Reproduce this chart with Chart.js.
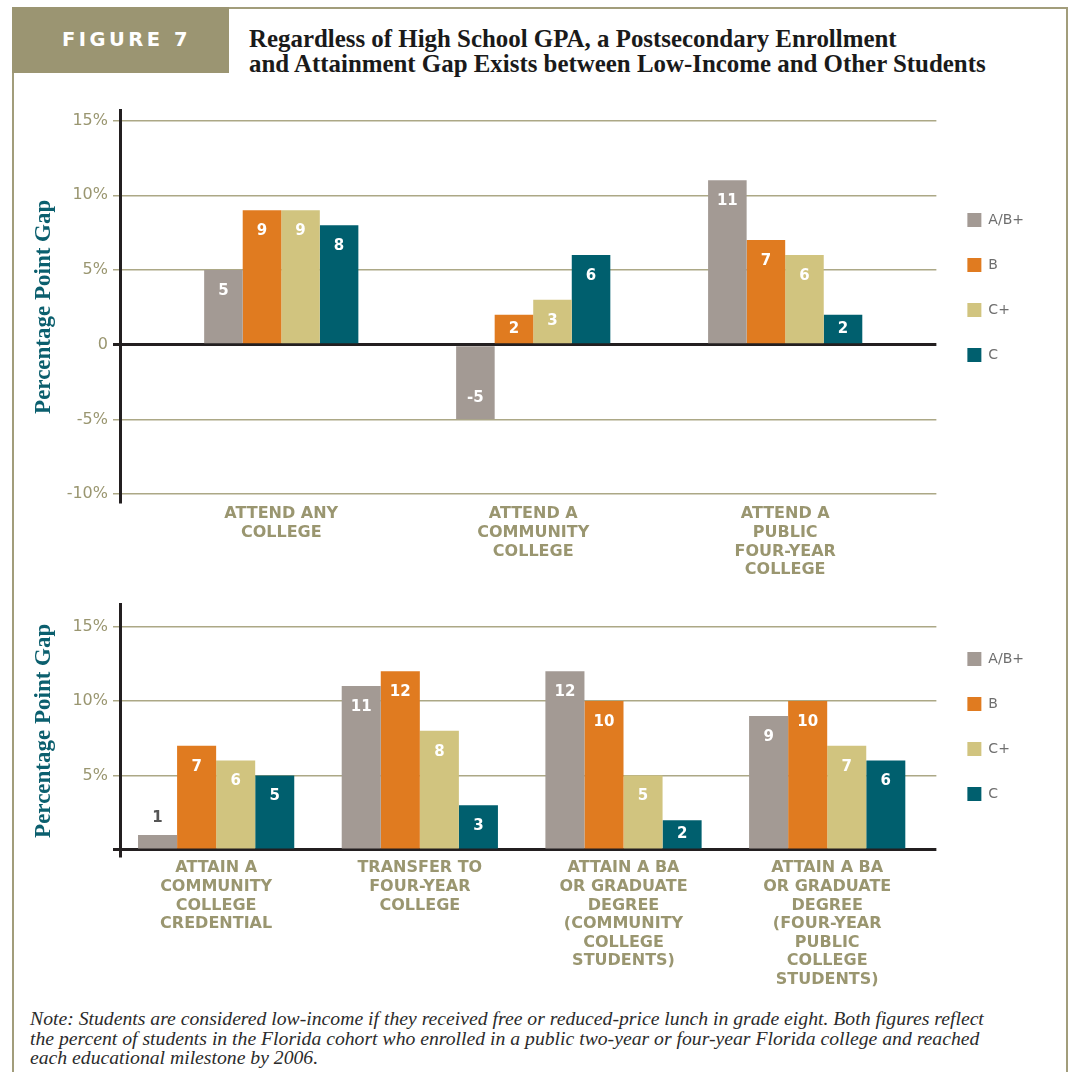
<!DOCTYPE html>
<html>
<head>
<meta charset="utf-8">
<script src="https://cdn.jsdelivr.net/npm/chart.js@4.4.0/dist/chart.umd.min.js"></script>
<style>
  body { margin: 0; background: #fff; width: 1069px; height: 1072px; overflow: hidden; position: relative; font-family: "DejaVu Sans", sans-serif; }
  #frame { position: absolute; left: 12px; top: 7px; width: 1052px; height: 1100px; border: 2px solid #a29d7b; }
  #figtag { position: absolute; left: 12px; top: 7px; width: 217px; height: 66px; box-sizing: border-box; padding-left: 12px;
            background: #9b9572; color: #fff; font: bold 19.5px "DejaVu Sans"; letter-spacing: 3.5px; line-height: 66px; text-align: center; }
  #title { position: absolute; left: 249px; top: 26px; font: bold 24.9px "Liberation Serif"; line-height: 25px; color: #1a1a1a; white-space: nowrap; }
  #note { position: absolute; left: 30px; top: 1009px; font: italic 19.7px "Liberation Serif"; line-height: 19.6px; color: #2b2b2b; white-space: nowrap; }
  canvas { position: absolute; }
</style>
</head>
<body>
<div id="frame"></div>
<div id="figtag">FIGURE 7</div>
<div id="title">Regardless of High School GPA, a Postsecondary Enrollment<br>and Attainment Gap Exists between Low-Income and Other Students</div>
<canvas id="enrollChart" width="1020" height="500" style="left:14px;top:96px"></canvas>
<canvas id="attainChart" width="1020" height="405" style="left:14px;top:590px"></canvas>
<div id="note">Note: Students are considered low-income if they received free or reduced-price lunch in grade eight. Both figures reflect<br>the percent of students in the Florida cohort who enrolled in a public two-year or four-year Florida college and reached<br>each educational milestone by 2006.</div>

<script>
// GPA groups (legend) and their colours
var gpaLabels = ["A/B+", "B", "C+", "C"];
var gpaColors = ["#a39a94", "#e07b20", "#d1c47f", "#005f6e"];

// top panel: enrollment
var enrollCats = [
  ["ATTEND ANY", "COLLEGE"],
  ["ATTEND A", "COMMUNITY", "COLLEGE"],
  ["ATTEND A", "PUBLIC", "FOUR-YEAR", "COLLEGE"]
];
var enrollAB = [5, -5, 11];
var enrollB = [9, 2, 7];
var enrollCPlus = [9, 3, 6];
var enrollC = [8, 6, 2];
var enrollTicks = [15, 10, 5, 0, -5, -10];

// bottom panel: attainment
var attainCats = [
  ["ATTAIN A", "COMMUNITY", "COLLEGE", "CREDENTIAL"],
  ["TRANSFER TO", "FOUR-YEAR", "COLLEGE"],
  ["ATTAIN A BA", "OR GRADUATE", "DEGREE", "(COMMUNITY", "COLLEGE", "STUDENTS)"],
  ["ATTAIN A BA", "OR GRADUATE", "DEGREE", "(FOUR-YEAR", "PUBLIC", "COLLEGE", "STUDENTS)"]
];
var attainAB = [1, 11, 12, 9];
var attainB = [7, 12, 10, 10];
var attainCPlus = [6, 8, 5, 7];
var attainC = [5, 3, 2, 6];
var attainTicks = [15, 10, 5, 0];

var OLIVE = "#9a9670";
var GRID = "#aca886";
var INK = "#231f20";

// numbers printed inside (or just above) each bar
var valueLabels = {
  id: "valueLabels",
  afterDatasetsDraw: function (chart) {
    var ctx = chart.ctx;
    ctx.save();
    ctx.font = "bold 15px 'DejaVu Sans'";
    ctx.textAlign = "center";
    ctx.textBaseline = "middle";
    chart.data.datasets.forEach(function (ds, di) {
      chart.getDatasetMeta(di).data.forEach(function (bar, i) {
        var v = ds.data[i].y;
        var h = Math.abs(bar.base - bar.y);
        var dir = v >= 0 ? 1 : -1;
        if (h < 24) {
          ctx.fillStyle = "#555";
          ctx.fillText(String(v), bar.x, bar.y - dir * 17);
        } else {
          ctx.fillStyle = "#fff";
          ctx.fillText(String(v), bar.x, bar.y + dir * Math.min(21, h / 2));
        }
      });
    });
    ctx.restore();
  }
};

function makeChart(id, cats, series, yTicks, cfg) {
  var datasets = series.map(function (vals, k) {
    return {
      label: gpaLabels[k],
      data: vals.map(function (v, i) { return { x: i, y: v }; }),
      backgroundColor: gpaColors[k],
      borderWidth: 0,
      barPercentage: 1,
      categoryPercentage: cfg.group
    };
  });

  new Chart(document.getElementById(id).getContext("2d"), {
    type: "bar",
    data: { datasets: datasets },
    plugins: [valueLabels],
    options: {
      responsive: false,
      animation: false,
      layout: { padding: { top: cfg.padTop, left: 0, right: 0, bottom: 0 } },
      plugins: {
        tooltip: { enabled: false },
        legend: {
          position: "right",
          align: "start",
          title: { display: true, text: " ", font: { size: 12 }, padding: { top: 0, bottom: cfg.legendGap } },
          labels: {
            boxWidth: 14, boxHeight: 14, padding: 31,
            color: "#6e6e6e",
            font: { size: 14, family: "DejaVu Sans" }
          }
        }
      },
      scales: {
        x: {
          type: "linear",
          offset: false,
          min: cfg.xmin, max: cfg.xmax,
          afterBuildTicks: function (s) { s.ticks = cats.map(function (c, i) { return { value: i }; }); },
          afterFit: function (s) { s.height = cfg.xh; },
          grid: { display: false, drawTicks: false, offset: false },
          border: { display: false },
          ticks: {
            autoSkip: false, maxRotation: 0, padding: 2,
            color: OLIVE,
            font: { size: 16, weight: "bold", family: "DejaVu Sans", lineHeight: 1.16 },
            callback: function (v) { return cats[v]; }
          }
        },
        y: {
          min: cfg.ymin, max: cfg.ymax,
          afterBuildTicks: function (s) { s.ticks = yTicks.map(function (v) { return { value: v }; }); },
          afterFit: function (s) { s.width = 106; },
          border: { color: INK, width: 3 },
          grid: {
            color: function (c) { return c.tick && c.tick.value === 0 ? INK : GRID; },
            lineWidth: function (c) { return c.tick && c.tick.value === 0 ? 3 : 1.5; },
            tickLength: 7
          },
          ticks: {
            padding: 5,
            color: OLIVE,
            font: { size: 16, family: "DejaVu Sans" },
            callback: function (v) { return v === 0 ? cfg.zeroLabel : v + "%"; }
          },
          title: {
            display: true,
            text: "Percentage Point Gap",
            color: "#0b5f6e",
            font: { family: "Liberation Serif", size: 23, weight: "bold" },
            padding: { top: 16, bottom: 0 }
          }
        }
      }
    }
  });
}

makeChart("enrollChart", enrollCats, [enrollAB, enrollB, enrollCPlus, enrollC], enrollTicks, {
  group: 0.612, xmin: -0.64, xmax: 2.6, ymin: -10.6, ymax: 15.67,
  padTop: 12, xh: 93, legendGap: 59.6, zeroLabel: "0"
});

makeChart("attainChart", attainCats, [attainAB, attainB, attainCPlus, attainC], attainTicks, {
  group: 0.767, xmin: -0.472, xmax: 3.536, ymin: -0.47, ymax: 16.47,
  padTop: 13, xh: 138, legendGap: 3.6, zeroLabel: ""
});
</script>
</body>
</html>
